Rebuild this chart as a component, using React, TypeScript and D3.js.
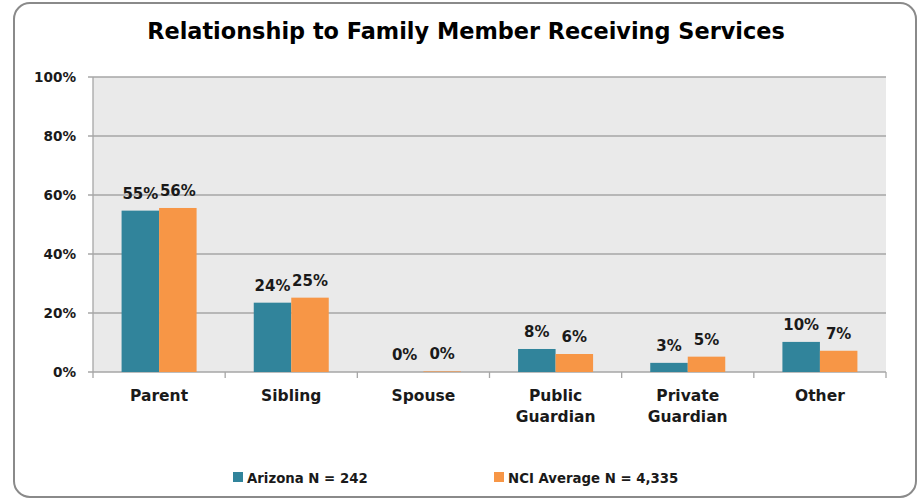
import React from "react";
import * as d3 from "d3";

const categories = [["Parent"], ["Sibling"], ["Spouse"], ["Public", "Guardian"], ["Private", "Guardian"], ["Other"]];
const arizona = [54.7, 23.5, 0, 7.8, 3.1, 10.2];
const nci = [55.6, 25.2, 0.2, 6.1, 5.2, 7.2];
const seriesNames = ["Arizona N = 242", "NCI Average N = 4,335"];
const yTicks = [0, 20, 40, 60, 80, 100];
const title = "Relationship to Family Member Receiving Services";

const W = 923, H = 499;
const plot = { left: 93, right: 886, top: 77, bottom: 372 };
const colors = ["#31849B", "#F79646"];
const FONT = "'DejaVu Sans', sans-serif";

export default function App() {
  const x = d3.scaleBand<number>().domain(d3.range(categories.length)).range([plot.left, plot.right]);
  const y = d3.scaleLinear().domain([0, 100]).range([plot.bottom, plot.top]);
  const bw = 37.5;
  const series = [arizona, nci];
  return (
    <svg width={W} height={H} style={{ position: "absolute", left: 0, top: 0, display: "block", fontFamily: FONT }}>
      <rect x={0} y={0} width={W} height={H} fill="#fff" />
      <rect x={14} y={3} width={902} height={494} rx={16} ry={16} fill="#fff" stroke="#8a8a8a" strokeWidth={2} />
      <text x={466} y={39} textAnchor="middle" fontWeight={700} fontSize={22.4} fill="#000">{title}</text>
      <rect x={plot.left} y={plot.top} width={plot.right - plot.left} height={plot.bottom - plot.top} fill="#EAEAEA" />
      {yTicks.map((t) => (
        <g key={t}>
          <line x1={plot.left - 5} x2={plot.right} y1={y(t)} y2={y(t)} stroke="#A6A6A6" strokeWidth={1.3} />
          <text x={76} y={y(t) + 5} textAnchor="end" fontWeight={700} fontSize={13.6} fill="#1a1a1a">{t}%</text>
        </g>
      ))}
      <line x1={plot.left} x2={plot.left} y1={plot.top} y2={plot.bottom} stroke="#A6A6A6" strokeWidth={1.3} />
      {d3.range(categories.length + 1).map((i) => {
        const xx = plot.left + i * x.step();
        return <line key={i} x1={xx} x2={xx} y1={plot.bottom} y2={plot.bottom + 6} stroke="#A6A6A6" strokeWidth={1.3} />;
      })}
      {series.map((vals, si) =>
        vals.map((v, i) => {
          const cx = (x(i) as number) + x.bandwidth() / 2;
          const bx = cx - bw + si * bw;
          return (
            <g key={`${si}-${i}`}>
              <rect x={bx} y={y(v)} width={bw} height={plot.bottom - y(v)} fill={colors[si]} />
              <text x={bx + bw / 2} y={y(v) - 12} textAnchor="middle" fontWeight={700} fontSize={15} fill="#1a1a1a">
                {Math.round(v)}%
              </text>
            </g>
          );
        })
      )}
      {categories.map((lines, i) => {
        const cx = (x(i) as number) + x.bandwidth() / 2;
        return (
          <text key={i} textAnchor="middle" fontWeight={700} fontSize={15.5} fill="#1a1a1a">
            {lines.map((l, j) => (
              <tspan key={j} x={cx} y={401 + j * 21}>{l}</tspan>
            ))}
          </text>
        );
      })}
      {seriesNames.map((name, i) => {
        const lx = [233, 494][i];
        return (
          <g key={name}>
            <rect x={lx} y={472} width={10} height={10} fill={colors[i]} />
            <text x={lx + 14} y={483} fontWeight={700} fontSize={13.3} fill="#1a1a1a">{name}</text>
          </g>
        );
      })}
    </svg>
  );
}
